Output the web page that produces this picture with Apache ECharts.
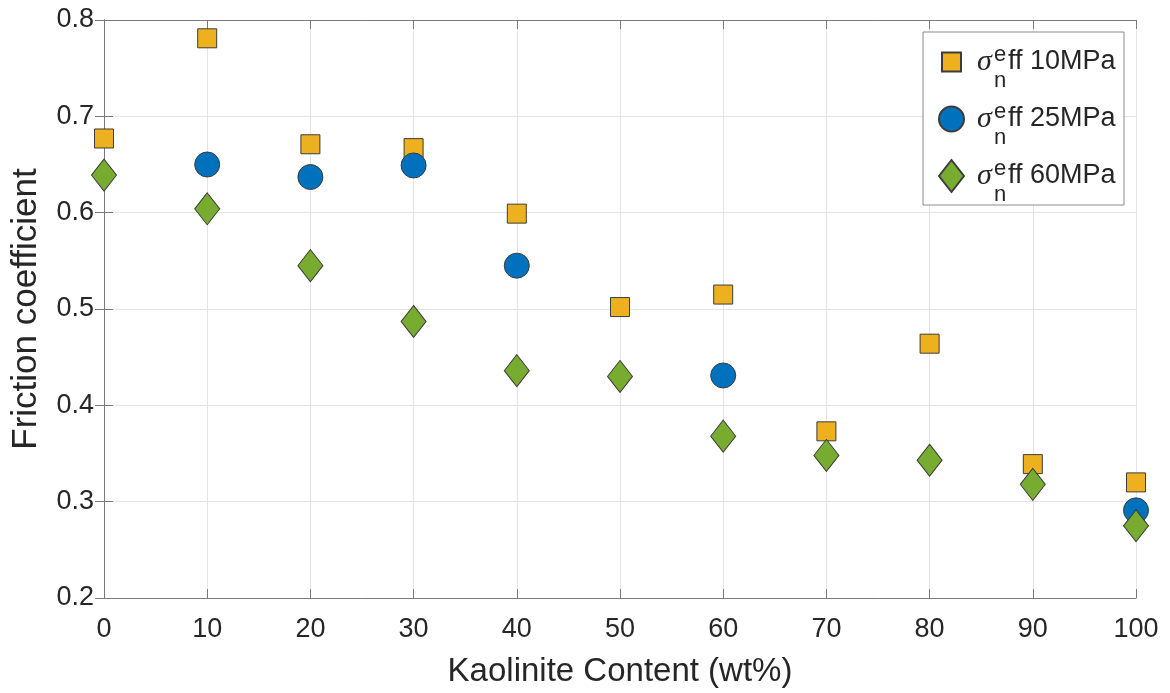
<!DOCTYPE html>
<html>
<head>
<meta charset="utf-8">
<script src="https://cdn.jsdelivr.net/npm/echarts@6/dist/echarts.min.js"></script>
<style>
  html, body { margin: 0; padding: 0; background: #ffffff; }
  #chart { width: 1170px; height: 693px; }
</style>
</head>
<body>
<div id="chart"></div>
<script>
// Kaolinite content (wt%) of the tested gouge mixtures
const kaolinite = [0, 10, 20, 30, 40, 50, 60, 70, 80, 90, 100];

// Steady-state friction coefficient at each effective normal stress
const mu10MPa = [0.677, 0.781, 0.671, 0.667, 0.599, 0.502, 0.515, 0.373, 0.464, 0.339, 0.320];
const mu25MPa = [null, 0.650, 0.637, 0.649, 0.545, null, 0.431, null, null, null, 0.291];
const mu60MPa = [0.639, 0.604, 0.545, 0.487, 0.436, 0.430, 0.368, 0.348, 0.343, 0.318, 0.275];

const stressLabels = ['10MPa', '25MPa', '60MPa'];
const yTicks = [0.2, 0.3, 0.4, 0.5, 0.6, 0.7, 0.8];
const xTicks = [0, 10, 20, 30, 40, 50, 60, 70, 80, 90, 100];

const colors = { sq: '#EDB120', ci: '#0072BD', di: '#77AC30' };
const edge = '#3c3c3c';
const axisGray = '#7a7a7a';
const textColor = '#262626';

function pairs(values) {
  return kaolinite.map((x, i) => [x, values[i]]).filter(p => p[1] != null);
}

// legend icons laid out in a 25x32 frame so the symbols keep their sizes
const squareIcon = 'path://M0,0 M25,32 M3,6.5 L22,6.5 L22,25.5 L3,25.5 Z';
const diamondIcon = 'path://M12.5,0 L25,16 L12.5,32 L0,16 Z';

const chart = echarts.init(document.getElementById('chart'), null, { renderer: 'canvas' });

const tickAxisCommon = {
  axisLine: { show: true, lineStyle: { color: axisGray, width: 1 } },
  axisTick: { show: true, inside: true, length: 9, lineStyle: { color: axisGray } },
  splitLine: { show: false },
  axisLabel: { show: false }
};

const option = {
  backgroundColor: '#ffffff',
  animation: false,
  grid: { left: 104, right: 34, top: 20, bottom: 95, show: false },
  graphic: [{
    type: 'rect',
    shape: { x: 923, y: 32, width: 201, height: 173 },
    style: { fill: '#ffffff', stroke: '#8a8a8a', lineWidth: 1 },
    z: 10
  }],
  legend: {
    orient: 'vertical',
    left: 938,
    top: 32,
    padding: 0,
    itemGap: -3,
    itemWidth: 25,
    itemHeight: 32,
    z: 11,
    data: [
      { name: stressLabels[0], icon: squareIcon },
      { name: stressLabels[1], icon: 'circle' },
      { name: stressLabels[2], icon: diamondIcon }
    ],
    // σ with stacked super/subscript, then the rest of the label
    formatter: name => '{s|σ}{e|e}{n|n}{t|ff ' + name + '}',
    textStyle: {
      color: textColor,
      fontFamily: 'Liberation Sans',
      fontSize: 26,
      lineHeight: 60,
      rich: {
        s: { fontFamily: 'Liberation Serif', fontStyle: 'italic', fontSize: 30, color: textColor,
             width: 17, padding: [0, 0, 0, 8], lineHeight: 60 },
        e: { fontFamily: 'Liberation Sans', fontSize: 22, color: textColor, width: 0.01,
             verticalAlign: 'top', padding: [12, 0, 0, 0], lineHeight: 22 },
        n: { fontFamily: 'Liberation Sans', fontSize: 22, color: textColor, width: 14,
             verticalAlign: 'bottom', lineHeight: 22 },
        t: { fontFamily: 'Liberation Sans', fontSize: 27, color: textColor, lineHeight: 60 }
      }
    }
  },
  xAxis: [{
    type: 'value',
    min: 0, max: 100, interval: 10,
    position: 'bottom',
    name: 'Kaolinite Content (wt%)',
    nameLocation: 'middle',
    nameGap: 57,
    nameTextStyle: { color: textColor, fontFamily: 'Liberation Sans', fontSize: 33 },
    axisLine: { show: true, lineStyle: { color: axisGray, width: 1 } },
    axisTick: { show: true, inside: true, length: 9, lineStyle: { color: axisGray } },
    splitLine: { show: true, lineStyle: { color: '#e4e4e4', width: 1 } },
    axisLabel: {
      color: textColor, fontFamily: 'Liberation Sans', fontSize: 27, margin: 18,
      formatter: v => (xTicks.includes(v) ? String(v) : '')
    }
  }, Object.assign({
    type: 'value', min: 0, max: 100, interval: 10, position: 'top'
  }, tickAxisCommon)],
  yAxis: [{
    type: 'value',
    min: 0.2, max: 0.8, interval: 0.1,
    position: 'left',
    name: 'Friction coefficient',
    nameLocation: 'middle',
    nameGap: 60,
    nameTextStyle: { color: textColor, fontFamily: 'Liberation Sans', fontSize: 35 },
    axisLine: { show: true, lineStyle: { color: axisGray, width: 1 } },
    axisTick: { show: true, inside: true, length: 9, lineStyle: { color: axisGray } },
    splitLine: { show: true, lineStyle: { color: '#e4e4e4', width: 1 } },
    axisLabel: {
      color: textColor, fontFamily: 'Liberation Sans', fontSize: 27, margin: 10,
      formatter: v => {
        const t = yTicks.find(k => Math.abs(k - v) < 1e-6);
        return t != null ? t.toFixed(1) : '';
      }
    }
  }, Object.assign({
    type: 'value', min: 0.2, max: 0.8, interval: 0.1, position: 'right'
  }, tickAxisCommon)],
  series: [
    {
      name: stressLabels[0],
      type: 'scatter',
      clip: false,
      symbol: 'rect',
      symbolSize: 19,
      itemStyle: { color: colors.sq, borderColor: edge, borderWidth: 1, opacity: 1 },
      data: pairs(mu10MPa)
    },
    {
      name: stressLabels[1],
      type: 'scatter',
      clip: false,
      symbol: 'circle',
      symbolSize: 25,
      itemStyle: { color: colors.ci, borderColor: edge, borderWidth: 1, opacity: 1 },
      data: pairs(mu25MPa)
    },
    {
      name: stressLabels[2],
      type: 'scatter',
      clip: false,
      symbol: 'diamond',
      symbolSize: [25, 32],
      itemStyle: { color: colors.di, borderColor: edge, borderWidth: 1, opacity: 1 },
      data: pairs(mu60MPa)
    }
  ]
};

chart.setOption(option);
</script>
</body>
</html>
